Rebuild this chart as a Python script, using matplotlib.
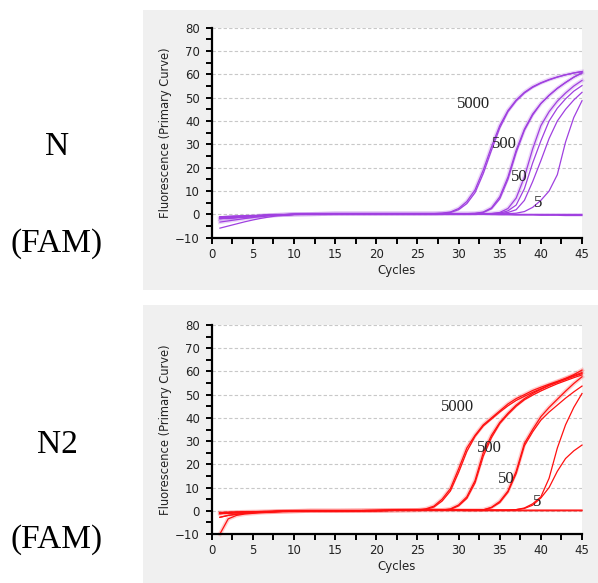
import matplotlib.pyplot as plt
from matplotlib.patches import Rectangle
from matplotlib.ticker import MultipleLocator

# -----------------------
# DATA
# -----------------------
cycles = [1, 2, 3, 4, 5, 6, 7, 8, 10, 12, 15, 20,
          25, 26, 27, 28, 29, 30, 31, 32, 33, 34, 35,
          36, 37, 38, 39, 40, 41, 42, 43, 44, 45]

# N (FAM) - purple panel
n_5000_a = [-1.8, -1.6, -1.35, -1.1, -0.85, -0.6, -0.4, -0.25, 0.0, 0.1, 0.3, 0.3,
            0.3, 0.3, 0.3, 0.5, 1.0, 2.5, 5.5, 10.5, 19, 29, 38,
            44.5, 49, 52.3, 54.7, 56.4, 57.8, 58.9, 59.8, 60.6, 61.2]
n_5000_b = [-1.0, -0.9, -0.8, -0.7, -0.6, -0.45, -0.3, -0.2, 0.0, 0.1, 0.3, 0.3,
            0.3, 0.3, 0.3, 0.4, 0.8, 2.0, 4.6, 9.3, 17.5, 27.5, 37,
            44, 48.6, 52, 54.4, 56.2, 57.6, 58.8, 59.8, 60.6, 61.2]
n_500_a = [-3.3, -2.8, -2.3, -1.8, -1.35, -0.95, -0.6, -0.35, 0.0, 0.1, 0.3, 0.3,
           0.3, 0.3, 0.3, 0.3, 0.3, 0.3, 0.3, 0.4, 1.0, 2.8, 7.5,
           16, 27.5, 36.5, 43, 47.5, 51, 54, 56.5, 58.8, 60.5]
n_500_b = [-1.4, -1.2, -1.0, -0.8, -0.65, -0.5, -0.35, -0.2, 0.0, 0.1, 0.3, 0.3,
           0.3, 0.3, 0.3, 0.3, 0.3, 0.3, 0.3, 0.4, 0.8, 2.4, 6.6,
           15, 26.5, 36, 42.5, 47.5, 51, 54, 56.5, 58.8, 60.8]
n_50_a = [-1.8, -1.6, -1.35, -1.1, -0.85, -0.6, -0.4, -0.25, 0.0, 0.1, 0.3, 0.3,
          0.3, 0.3, 0.3, 0.3, 0.3, 0.3, 0.3, 0.3, 0.3, 0.4, 0.8,
          2.5, 7, 16, 28, 38, 44, 48.5, 52, 55, 57.4]
n_50_b = [-1.0, -0.9, -0.8, -0.7, -0.6, -0.45, -0.3, -0.2, 0.0, 0.1, 0.3, 0.3,
          0.3, 0.3, 0.3, 0.3, 0.3, 0.3, 0.3, 0.3, 0.3, 0.3, 0.5,
          1.5, 4, 11, 22, 31.5, 40, 45.5, 49.5, 52.8, 55.2]
n_50_c = [-5.9, -5.0, -4.1, -3.2, -2.4, -1.7, -1.1, -0.6, -0.1, 0.1, 0.3, 0.3,
          0.3, 0.3, 0.3, 0.3, 0.3, 0.3, 0.3, 0.3, 0.3, 0.3, 0.4,
          0.8, 2, 6, 14, 23, 32.5, 40, 45, 49, 52.3]
n_5 = [-1.8, -1.6, -1.35, -1.1, -0.85, -0.6, -0.4, -0.25, 0.0, 0.1, 0.3, 0.3,
       0.3, 0.3, 0.3, 0.3, 0.3, 0.3, 0.3, 0.3, 0.3, 0.3, 0.3,
       0.3, 0.5, 1.2, 3, 6, 10, 17, 31, 41.5, 48.7]
n_neg_a = [-1.0, -0.9, -0.8, -0.7, -0.6, -0.45, -0.3, -0.2, 0.0, 0.1, 0.3, 0.3,
           0.3, 0.3, 0.2, 0.1, 0.0, 0.0, 0.0, 0.0, 0.0, 0.0, 0.0,
           0.0, 0.0, 0.0, 0.0, 0.0, 0.0, 0.0, 0.0, 0.0, 0.0]
n_neg_b = [-1.8, -1.6, -1.35, -1.1, -0.85, -0.6, -0.4, -0.25, 0.0, 0.1, 0.3, 0.3,
           0.3, 0.3, 0.2, 0.1, 0.0, 0.0, 0.0, 0.0, 0.0, -0.1, -0.2,
           -0.2, -0.3, -0.3, -0.3, -0.4, -0.4, -0.4, -0.5, -0.5, -0.5]

# N2 (FAM) - red panel
m_5000_a = [-1.2, -1.0, -0.8, -0.7, -0.6, -0.5, -0.4, -0.3, -0.15, 0.0, 0.0, 0.1,
            0.3, 0.8, 2, 5, 9.5, 18, 27, 32.5, 37, 40, 43,
            46, 48.3, 50, 51.8, 53.2, 54.5, 55.7, 57, 58.6, 60.6]
m_5000_b = [-2.8, -2.0, -1.5, -1.1, -0.8, -0.6, -0.45, -0.3, -0.15, 0.0, 0.0, 0.1,
            0.3, 0.6, 1.6, 4.2, 8.5, 16.5, 25.5, 32, 36.5, 39.5, 42.5,
            45.2, 47.5, 49.3, 51, 52.5, 54, 55.3, 56.6, 57.9, 59.1]
m_500_a = [-0.8, -0.7, -0.6, -0.5, -0.4, -0.35, -0.3, -0.2, -0.1, 0.0, 0.0, 0.1,
           0.3, 0.3, 0.3, 0.3, 0.8, 2.5, 6, 13, 25, 32.5, 38,
           42, 45.5, 48.3, 50.5, 52.3, 54, 55.5, 56.9, 58.2, 59.5]
m_500_b = [-1.2, -1.0, -0.8, -0.7, -0.6, -0.5, -0.4, -0.3, -0.15, 0.0, 0.0, 0.1,
           0.3, 0.3, 0.3, 0.3, 0.6, 2.1, 5.3, 12, 23.5, 31.5, 37.5,
           41.5, 45, 47.8, 49.8, 51.6, 53.2, 54.7, 56, 57.3, 58.5]
m_50_a = [-10, -3.5, -2.0, -1.4, -1.1, -0.8, -0.6, -0.4, -0.2, 0.0, 0.0, 0.1,
          0.3, 0.3, 0.3, 0.3, 0.3, 0.3, 0.3, 0.3, 0.4, 1.5, 4,
          8.5, 17, 29, 35, 40.5, 44.5, 48, 51.5, 54.8, 57.7]
m_50_b = [-0.8, -0.7, -0.6, -0.5, -0.4, -0.35, -0.3, -0.2, -0.1, 0.0, 0.0, 0.1,
          0.3, 0.3, 0.3, 0.3, 0.3, 0.3, 0.3, 0.3, 0.4, 1.3, 3.5,
          8, 16, 28, 34, 39, 42.5, 45.5, 48.5, 51.2, 53.7]
m_5_a = [-1.2, -1.0, -0.8, -0.7, -0.6, -0.5, -0.4, -0.3, -0.15, 0.0, 0.0, 0.1,
         0.3, 0.3, 0.3, 0.3, 0.3, 0.3, 0.3, 0.3, 0.3, 0.3, 0.3,
         0.3, 0.5, 1.2, 3, 6, 14, 27, 37, 44.5, 50.5]
m_5_b = [-2.8, -2.0, -1.5, -1.1, -0.8, -0.6, -0.45, -0.3, -0.15, 0.0, 0.0, 0.1,
         0.3, 0.3, 0.3, 0.3, 0.3, 0.3, 0.3, 0.3, 0.3, 0.3, 0.3,
         0.3, 0.5, 1, 2.4, 5.5, 10, 17, 22.5, 25.8, 28.3]
m_neg_a = [-0.8, -0.7, -0.6, -0.5, -0.4, -0.35, -0.3, -0.2, -0.1, 0.0, 0.0, 0.1,
           0.3, 0.3, 0.3, 0.2, 0.1, 0.1, 0.0, 0.0, 0.0, 0.0, 0.0,
           0.0, 0.0, 0.0, 0.0, 0.0, 0.0, 0.0, 0.0, 0.0, 0.0]
m_neg_b = [-1.2, -1.0, -0.8, -0.7, -0.6, -0.5, -0.4, -0.3, -0.15, 0.0, 0.0, 0.1,
           0.3, 0.3, 0.3, 0.3, 0.3, 0.3, 0.3, 0.3, 0.3, 0.3, 0.3,
           0.3, 0.3, 0.3, 0.3, 0.3, 0.3, 0.3, 0.3, 0.3, 0.3]

n_curves = [n_5000_a, n_5000_b, n_500_a, n_500_b, n_50_a, n_50_b, n_50_c, n_5, n_neg_a, n_neg_b]
n_thick = [n_5000_a, n_500_a, n_50_a]
m_curves = [m_5000_a, m_5000_b, m_500_a, m_500_b, m_50_a, m_50_b, m_5_a, m_5_b, m_neg_a, m_neg_b]
m_thick = [m_5000_a, m_500_a, m_50_a]

dilutions = ["5000", "500", "50", "5"]
n_label_x = [31.8, 35.6, 37.4, 39.7]
n_label_y = [47.5, 30, 16, 5]
m_label_x = [29.9, 33.7, 35.8, 39.6]
m_label_y = [44.8, 27.1, 13.6, 3.9]

# -----------------------
# FIGURE
# -----------------------
W, H = 598, 583
fig = plt.figure(figsize=(W / 100, H / 100), dpi=100, facecolor="white")

# grey panels behind each chart
fig.patches.append(Rectangle((143 / W, 1 - 290 / H), 455 / W, 280 / H,
                             transform=fig.transFigure, facecolor="#f0f0f0",
                             edgecolor="none", zorder=-5))
fig.patches.append(Rectangle((143 / W, 0), 455 / W, 278 / H,
                             transform=fig.transFigure, facecolor="#f0f0f0",
                             edgecolor="none", zorder=-5))

ax1 = fig.add_axes([211.7 / W, 1 - 237.7 / H, 370.3 / W, 210 / H])
ax2 = fig.add_axes([211.7 / W, 1 - 534 / H, 370.3 / W, 209 / H])

AXFONT = "DejaVu Sans"


def style_axes(ax):
    ax.set_xlim(0, 45)
    ax.set_ylim(-10, 80)
    ax.set_facecolor("white")
    ax.spines["top"].set_visible(False)
    ax.spines["right"].set_visible(False)
    ax.spines["left"].set_linewidth(1.6)
    ax.spines["bottom"].set_linewidth(1.6)
    ax.xaxis.set_major_locator(MultipleLocator(5))
    ax.xaxis.set_minor_locator(MultipleLocator(2.5))
    ax.yaxis.set_major_locator(MultipleLocator(10))
    ax.yaxis.set_minor_locator(MultipleLocator(5))
    ax.tick_params(which="both", direction="out", length=4.5, width=1.4, colors="black")
    ax.tick_params(axis="y", which="major", pad=4, labelsize=8.5, labelcolor="#222222")
    ax.tick_params(axis="x", which="major", pad=3, labelsize=8.5, labelcolor="#222222")
    ax.grid(axis="y", which="major", linestyle=(0, (3, 2)), color="#c8c8c8", linewidth=0.8)
    ax.set_axisbelow(True)
    ax.set_xlabel("Cycles", fontsize=8.5, color="#222222", labelpad=2, family=AXFONT)
    ax.set_ylabel("Fluorescence (Primary Curve)", fontsize=8.3, color="#222222",
                  labelpad=2, family=AXFONT)
    for lab in ax.get_xticklabels() + ax.get_yticklabels():
        lab.set_family(AXFONT)


for ax, curves, thick, color, lx, ly in [
    (ax1, n_curves, n_thick, "#a040e0", n_label_x, n_label_y),
    (ax2, m_curves, m_thick, "#ff1010", m_label_x, m_label_y),
]:
    style_axes(ax)
    for ys in thick:
        ax.plot(cycles, ys, color=color, linewidth=3.0, alpha=0.2, clip_on=False)
    for ys in curves:
        ax.plot(cycles, ys, color=color, linewidth=0.9, clip_on=False)
    for txt, x, y in zip(dilutions, lx, ly):
        ax.text(x, y, txt, fontsize=12, family="Liberation Serif", color="#222222",
                ha="center", va="center")

# side labels
for txt, y in [("N", 147), ("(FAM)", 244), ("N2", 445), ("(FAM)", 540)]:
    fig.text(57 / W, 1 - y / H, txt, fontsize=24, family="Liberation Serif",
             ha="center", va="center", color="black")

plt.savefig("out.png", dpi=100, facecolor=fig.get_facecolor())
